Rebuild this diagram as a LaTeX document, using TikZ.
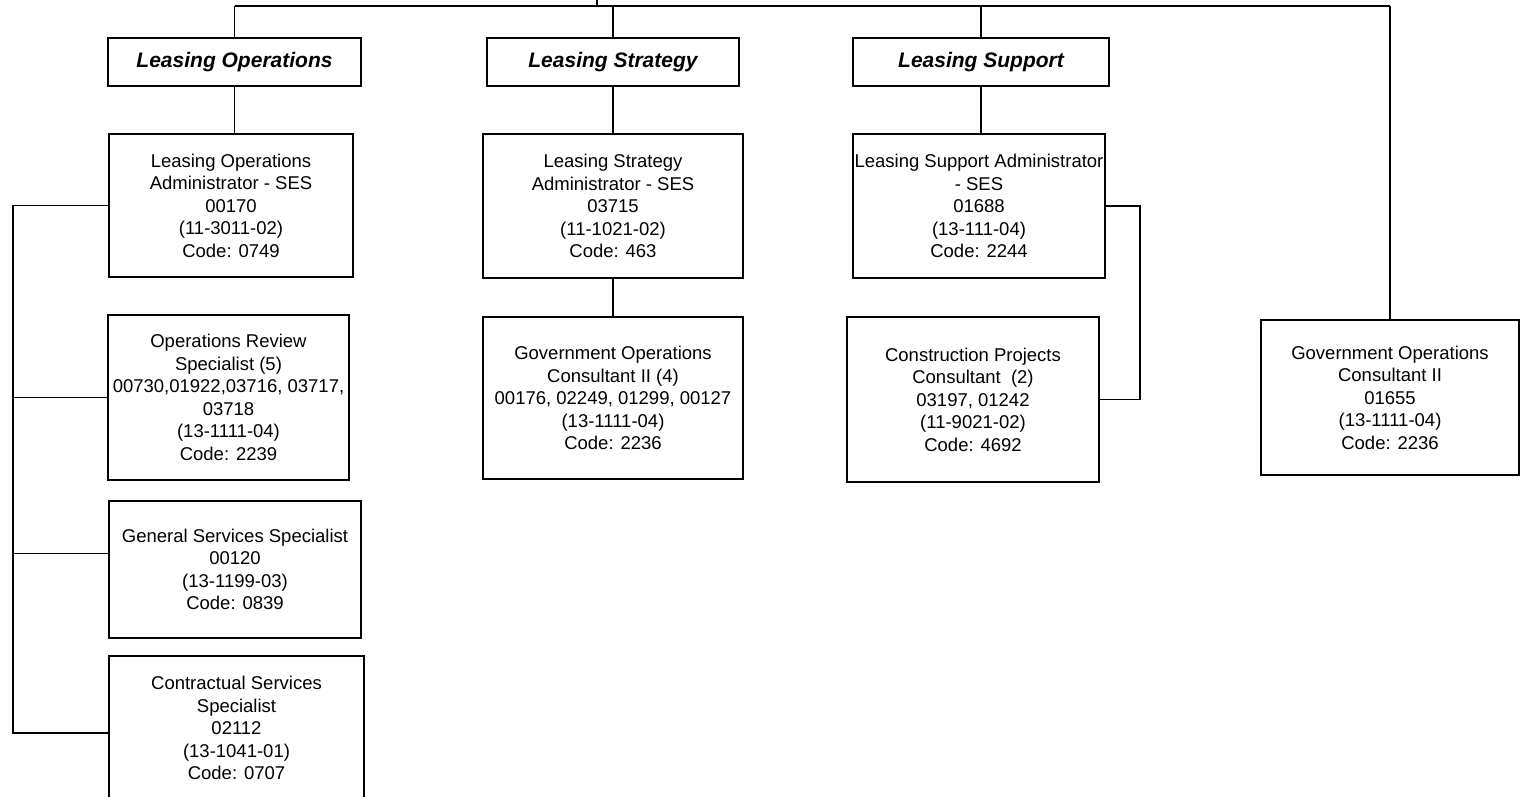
\documentclass[tikz,border=0pt]{standalone}
\usepackage{fontspec}
\setmainfont{Liberation Sans}
\begin{document}
\begin{tikzpicture}[x=1pt,y=-1pt,
  line width=1.9pt,
  unitbox/.style={draw, rectangle, inner sep=0pt, outer sep=0pt, align=center,
    font=\fontsize{18.5}{22.5}\selectfont},
  headbox/.style={draw, rectangle, inner sep=0pt, outer sep=0pt, align=center,
    minimum height=48pt, font=\fontsize{21}{25}\selectfont\bfseries\itshape},
  link/.style={draw, line width=1.9pt}
]
\useasboundingbox (0,0) rectangle (1523,797);

% division headers
\node[headbox, minimum width=253pt] (hdrOps) at (234.5,62) {Leasing Operations};
\node[headbox, minimum width=252pt] (hdrStr) at (613,62) {Leasing Strategy};
\node[headbox, minimum width=256pt] (hdrSup) at (981,62) {Leasing Support};

% Leasing Operations
\node[unitbox, minimum width=244pt, minimum height=143pt] (admOps) at (231,205.5)
  {Leasing Operations\\Administrator - SES\\00170\\(11-3011-02)\\Code: 0749};
\node[unitbox, minimum width=241pt, minimum height=165pt] (revOps) at (228.5,397.5)
  {Operations Review\\Specialist (5)\\00730,01922,03716, 03717,\\03718\\(13-1111-04)\\Code: 2239};
\node[unitbox, minimum width=252pt, minimum height=137pt] (genSvc) at (235,569.5)
  {General Services Specialist\\00120\\(13-1199-03)\\Code: 0839};
\node[unitbox, minimum width=255pt, minimum height=144pt] (conSvc) at (236.5,728)
  {Contractual Services\\Specialist\\02112\\(13-1041-01)\\Code: 0707};

% Leasing Strategy
\node[unitbox, minimum width=260pt, minimum height=144pt] (admStr) at (613,206)
  {Leasing Strategy\\Administrator - SES\\03715\\(11-1021-02)\\Code: 463};
\node[unitbox, minimum width=260pt, minimum height=162pt] (govStr) at (613,398)
  {Government Operations\\Consultant II (4)\\00176, 02249, 01299, 00127\\(13-1111-04)\\Code: 2236};

% Leasing Support
\node[unitbox, minimum width=252pt, minimum height=144pt] (admSup) at (979,206)
  {Leasing Support Administrator\\- SES\\01688\\(13-111-04)\\Code: 2244};
\node[unitbox, minimum width=252pt, minimum height=165pt] (conSup) at (973,399.5)
  {Construction Projects\\Consultant\ \ (2)\\03197, 01242\\(11-9021-02)\\Code: 4692};

% stand-alone position
\node[unitbox, minimum width=258pt, minimum height=155pt] (govRt) at (1390,397.5)
  {Government Operations\\Consultant II\\01655\\(13-1111-04)\\Code: 2236};

% top bar and its feed from above
\coordinate (bar) at (0,6);
\coordinate (feed) at (597,-3);
\coordinate (spineX) at (13,0);
\path[link] (feed) -- (feed |- bar);
\path[link] (hdrOps.north |- bar) -- (govRt.north |- bar);
\path[link] (hdrOps.north) -- (hdrOps.north |- bar);
\path[link] (hdrStr.north) -- (hdrStr.north |- bar);
\path[link] (hdrSup.north) -- (hdrSup.north |- bar);
\path[link] (govRt.north) -- (govRt.north |- bar);

% headers to administrators
\path[link] (hdrOps.south) -- (hdrOps.south |- admOps.north);
\path[link] (hdrStr.south) -- (admStr.north);
\path[link] (hdrSup.south) -- (hdrSup.south |- admSup.north);
\path[link] (admStr.south) -- (govStr.north);

% Leasing Operations spine on the left
\coordinate (gsIn) at ([yshift=16pt]genSvc.west);
\coordinate (csIn) at ([yshift=-5pt]conSvc.west);
\path[link] (admOps.west) -- (admOps.west -| spineX) -- (csIn -| spineX) -- (csIn);
\path[link] (revOps.west -| spineX) -- (revOps.west);
\path[link] (gsIn -| spineX) -- (gsIn);

% Leasing Support side link
\path[link] (admSup.east) -- ++(35,0) |- (conSup.east);
\end{tikzpicture}
\end{document}
